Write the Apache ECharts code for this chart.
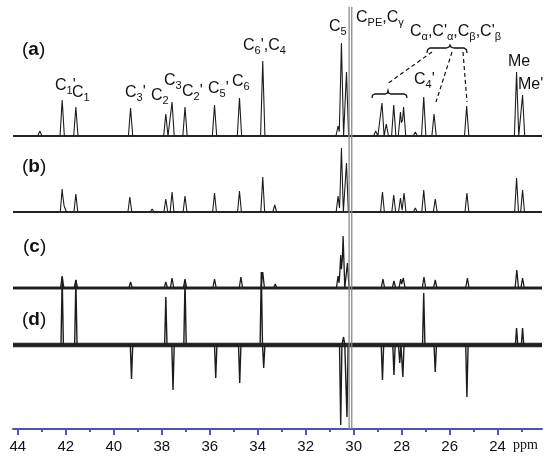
<!DOCTYPE html>
<html><head><meta charset="utf-8">
<script src="https://cdn.jsdelivr.net/npm/echarts@6/dist/echarts.min.js"></script>
<style>html,body{margin:0;padding:0;background:#fff}#c{width:550px;height:464px}</style>
</head><body><div id="c"></div>
<script>
// ---- data (ppm, intensity) ----
const majorTicks = [24, 26, 28, 30, 32, 34, 36, 38, 40, 42, 44];
const minorTicks = [23, 25, 27, 29, 31, 33, 35, 37, 39, 41, 43];
const peaksA = [[43.08,5],[42.15,36],[41.58,29],[39.3,28],[37.83,22],[37.57,34],[37.03,29],[35.8,31],[34.76,38],[33.79,75],
  [30.65,10],[30.51,93],[30.3,64],[29.08,5],[28.82,33],[28.64,12],[28.33,31],[28.05,24],[27.92,29],[27.43,4],[27.08,39],
  [26.65,22],[25.29,30],[23.21,64],[22.96,41]];
const peaksB = [[43.08,2],[42.15,23],[42.05,8],[41.58,18],[39.33,15],[38.4,3],[37.83,13],[37.57,20],[37.03,16],[35.8,19],
  [34.76,21],[33.79,35],[33.29,7],[30.65,16],[30.51,64],[30.3,49],[28.8,20],[28.33,17],[28.05,14],[27.9,19],[27.43,4],
  [27.08,22],[26.6,13],[25.28,19],[23.21,34],[22.96,22]];
const peaksC = [[42.15,12],[41.58,8],[39.3,6],[37.83,6],[37.57,10],[37.03,9],[35.8,9],[34.7,11],[33.79,16],[33.27,4],
  [30.65,12],[30.54,33],[30.44,52],[30.26,25],[28.78,9],[28.32,7],[28.04,9],[27.93,10],[27.07,11],[26.6,8],[25.26,10],
  [23.2,18],[22.96,10]];
const peaksD = [[42.15,68],[41.58,65],[39.26,-34],[37.83,48],[37.53,-45],[37.03,65],[35.75,-33],[34.75,-38],[33.85,73],
  [33.75,-23],[30.54,-80],[30.42,8],[30.28,-72],[28.8,-35],[28.32,-30],[28.08,-18],[27.95,-32],[27.08,52],[26.6,-27],
  [25.28,-52],[23.21,17],[22.96,17]];
const cpePeaks = [30.19, 30.08];   // off-scale C_PE,Cγ resonance
const cpeHeight = 422;

// ---- layout ----
const X_MIN = 22.15, X_MAX = 44.2;
const Y_MAX = 429;
const BASE = {a: 293, b: 217, c: 141, d: 84};

function buildTrace(peaks, base, w) {
  const xs = new Set([X_MIN, X_MAX]);
  peaks.forEach(([p]) => { xs.add(p - w); xs.add(p); xs.add(p + w); });
  const arr = Array.from(xs).sort((a, b) => b - a);
  return arr.map(x => {
    let y = base;
    peaks.forEach(([p, h]) => { const t = 1 - Math.abs(x - p) / w; if (t > 0) y += h * t; });
    return [x, y];
  });
}

const chart = echarts.init(document.getElementById('c'), null, {renderer: 'canvas'});
const FONT = 'Liberation Sans, Arial, sans-serif';
const richStyles = {
  m: {fontSize: 16, lineHeight: 20, fontFamily: FONT, fill: '#111'},
  s: {fontSize: 11, lineHeight: 11, verticalAlign: 'bottom', fontFamily: FONT, fill: '#111'},
  p: {fontSize: 19, lineHeight: 22, fontFamily: FONT, fill: '#111'},
  b: {fontSize: 19, lineHeight: 22, fontFamily: FONT, fontWeight: 'bold', fill: '#111'}
};
function lab(x, cy, text) {
  return {type: 'text', x: x, y: cy - 10, z: 50, silent: true,
    style: {text: text, rich: richStyles, align: 'left', verticalAlign: 'top', fill: '#111'}};
}
function tlab(x, cy, letter) {
  return {type: 'text', x: x, y: cy - 11, z: 50, silent: true,
    style: {text: '{p|(}{b|' + letter + '}{p|)}', rich: richStyles, align: 'left', verticalAlign: 'top'}};
}
const dash = {stroke: '#111', lineWidth: 1.2, lineDash: [4, 3]};
const solid = {fill: null, stroke: '#111', lineWidth: 1.3};

const traceColor = '#1c1c1c';
const series = [];
// noisy baseline bands (drawn as thick flat baselines)
[{b: BASE.a, w: 1.8}, {b: BASE.b, w: 1.8}, {b: BASE.c, w: 3}, {b: BASE.d, w: 4.5}].forEach(s =>
  series.push({type: 'line', data: [[X_MAX, s.b], [X_MIN, s.b]], showSymbol: false, silent: true, animation: false,
    lineStyle: {color: '#2a2a2a', width: s.w}, z: 2}));
[
  {data: buildTrace(peaksA, BASE.a, 0.09), width: 1.1},
  {data: buildTrace(peaksB, BASE.b, 0.08), width: 1.1},
  {data: buildTrace(peaksC, BASE.c, 0.07), width: 1.3},
  {data: buildTrace(peaksD, BASE.d, 0.05), width: 1.4}
].forEach(s => series.push({type: 'line', data: s.data, showSymbol: false, silent: true, animation: false,
  lineStyle: {color: traceColor, width: s.width}, z: 3}));
cpePeaks.forEach(p => series.push({type: 'line', data: [[p, 0], [p, cpeHeight]], showSymbol: false,
  silent: true, animation: false, lineStyle: {color: '#8a8a8a', width: 1.3}, z: 4}));

const axisColor = '#4b55b5';
chart.setOption({
  animation: false,
  grid: {left: 13, right: 8, top: 0, bottom: 35},
  xAxis: [
    {type: 'value', inverse: true, min: X_MIN, max: X_MAX, position: 'bottom',
      axisLine: {show: true, lineStyle: {color: axisColor, width: 2}},
      axisTick: {show: true, customValues: majorTicks, length: 6, lineStyle: {color: axisColor, width: 2}},
      axisLabel: {show: true, customValues: majorTicks, fontSize: 15, color: '#111', fontFamily: FONT, margin: 10},
      splitLine: {show: false}},
    {type: 'value', inverse: true, min: X_MIN, max: X_MAX, position: 'bottom',
      axisLine: {show: false},
      axisTick: {show: true, customValues: minorTicks, length: 3, lineStyle: {color: axisColor, width: 2}},
      axisLabel: {show: false}, splitLine: {show: false}}
  ],
  yAxis: {type: 'value', min: 0, max: Y_MAX, show: false},
  series: series,
  graphic: [
    tlab(22, 50, 'a'), tlab(22, 167, 'b'), tlab(23, 247, 'c'), tlab(22, 320, 'd'),
    lab(55, 86, "{m|C}{s|1}{m|'}"),
    lab(72, 93, "{m|C}{s|1}"),
    lab(125, 93, "{m|C}{s|3}{m|'}"),
    lab(151, 96, "{m|C}{s|2}"),
    lab(164, 81, "{m|C}{s|3}"),
    lab(182, 92, "{m|C}{s|2}{m|'}"),
    lab(208, 89, "{m|C}{s|5}{m|'}"),
    lab(232, 82, "{m|C}{s|6}"),
    lab(243, 46, "{m|C}{s|6}{m|',C}{s|4}"),
    lab(329, 27, "{m|C}{s|5}"),
    lab(356, 18, "{m|C}{s|PE}{m|,C}{s|γ}"),
    lab(410, 32, "{m|C}{s|α}{m|,C'}{s|α}{m|,C}{s|β}{m|,C'}{s|β}"),
    lab(414, 80, "{m|C}{s|4}{m|'}"),
    lab(508, 62, "{m|Me}"),
    lab(518, 85, "{m|Me'}"),
    {type: 'polyline', z: 50, silent: true, shape: {points: [[427,53],[427.6,49.6],[430,48],[446,48],[449,47],[450,45],[451,47],[454,48],[464,48],[466.4,49.6],[467,53]]}, style: solid},
    {type: 'polyline', z: 50, silent: true, shape: {points: [[372,98],[372.6,95.2],[375,94],[385,94],[387.4,93],[388,90.5],[388.6,93],[391,94],[404,94],[406.4,95.2],[407,98]]}, style: solid},
    {type: 'line', z: 50, silent: true, shape: {x1: 432, y1: 52, x2: 387, y2: 84}, style: dash},
    {type: 'line', z: 50, silent: true, shape: {x1: 452, y1: 52, x2: 436, y2: 102}, style: dash},
    {type: 'line', z: 50, silent: true, shape: {x1: 463, y1: 52, x2: 467, y2: 102}, style: dash},
    {type: 'text', x: 513, y: 445, z: 50, silent: true,
      style: {text: 'ppm', font: '14px "Liberation Serif", "Times New Roman", serif', fill: '#111', align: 'left', verticalAlign: 'middle'}}
  ]
});
</script></body></html>
